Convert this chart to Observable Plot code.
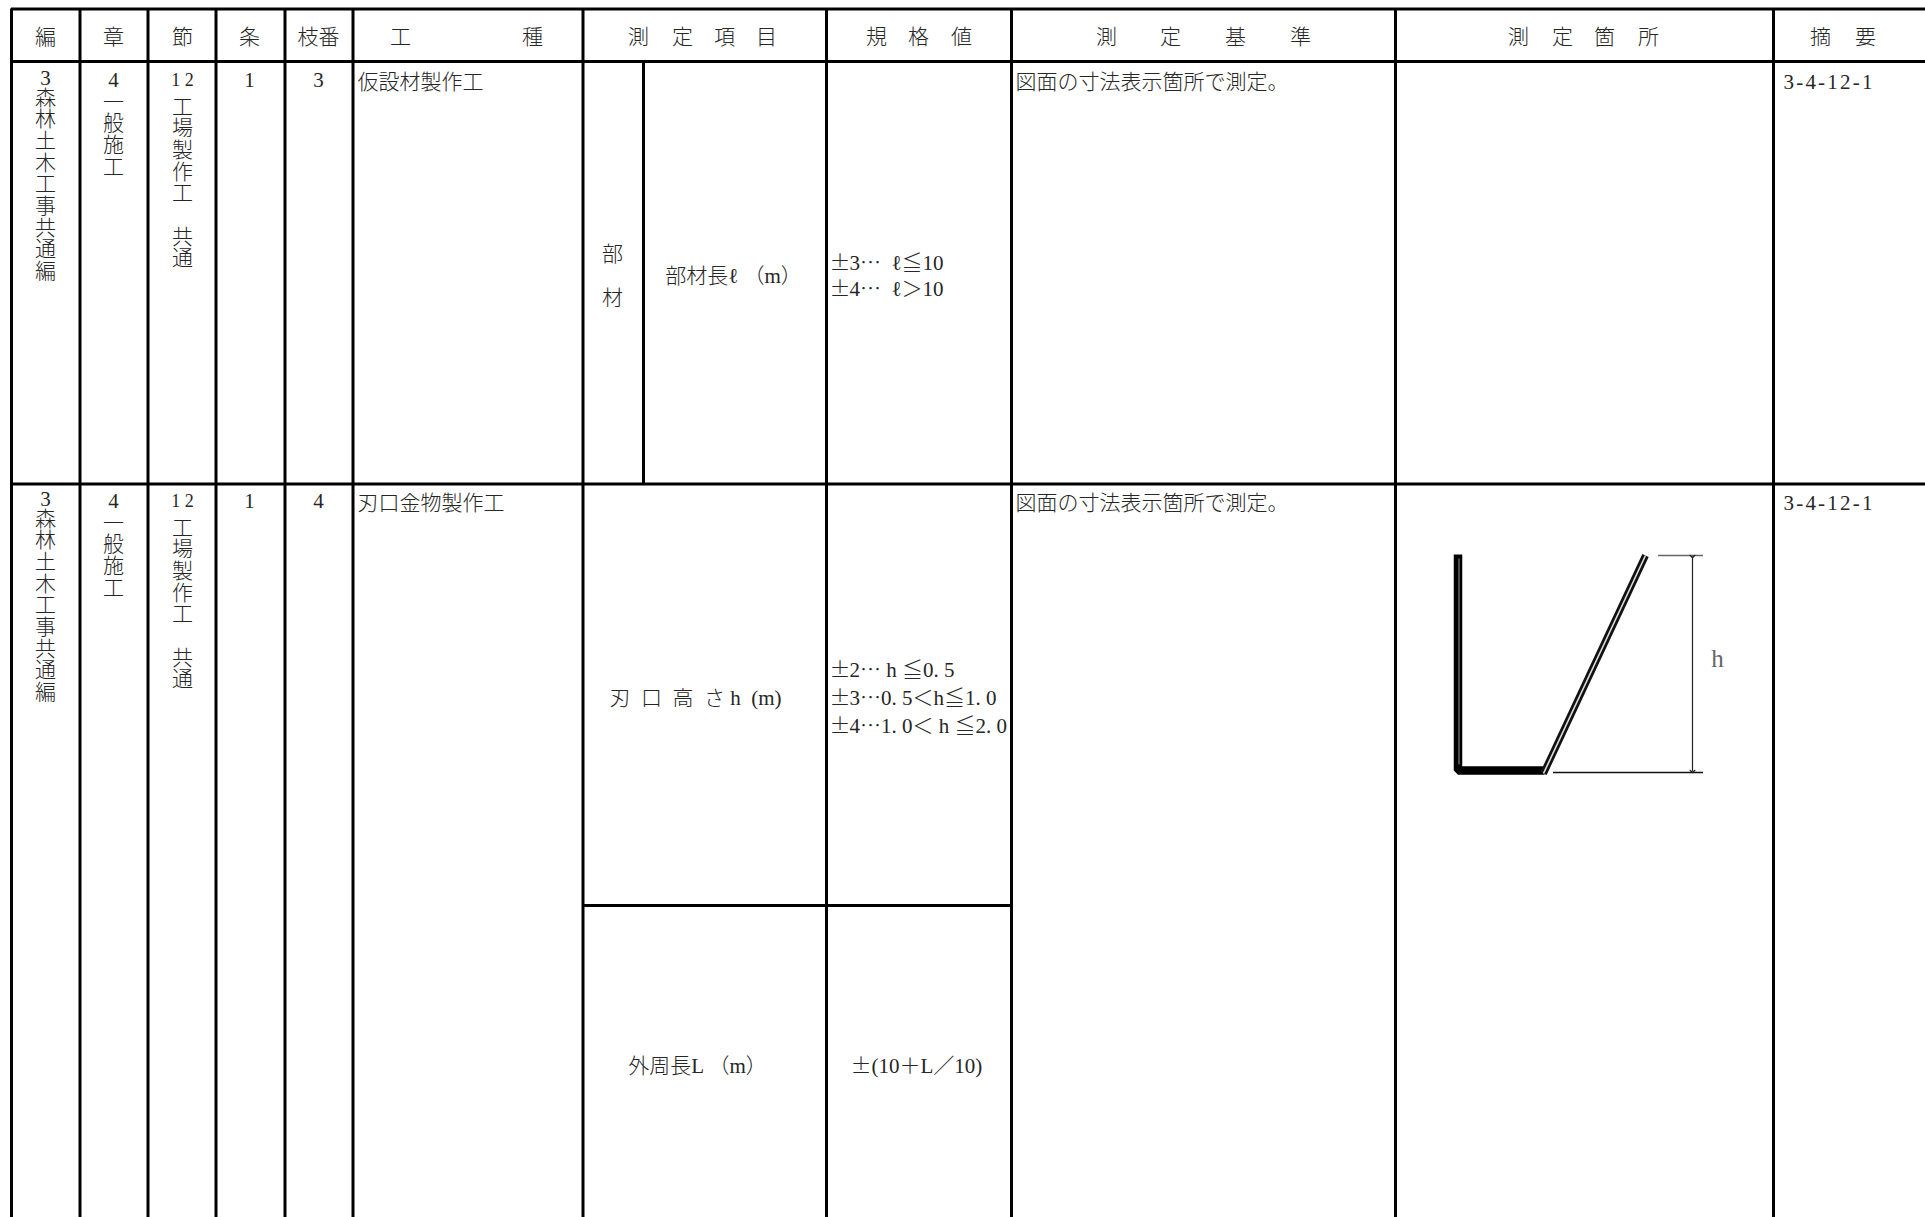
<!DOCTYPE html>
<html lang="ja"><head><meta charset="utf-8">
<style>html,body{margin:0;padding:0;background:#fff;overflow:hidden}svg{display:block}.wide text{letter-spacing:2.2px}</style>
<script src="https://cdn.jsdelivr.net/npm/d3@7"></script>
<script src="https://cdn.jsdelivr.net/npm/@observablehq/plot@0.6"></script>
</head><body><script>
// Table grid
const fullColumnEdges = [11, 79.5, 147.5, 215.5, 284.5, 352.5, 582.5, 826, 1011, 1395, 1773];
const innerEdge = [643];
const rowRules = [8.5, 61, 483.5];
const subRowRule = [905];
const tableEnd = 1925, pageEnd = 1217;

// Header
const headerChars = ["編","章","節","条","枝番","工","種","測","定","項","目","規","格","値","測","定","基","準","測","定","箇","所","摘","要"];
const headerCharX = [45,113,182,249,318,400,532,638,682,724,766,876,918,961,1106,1170,1235,1300,1518,1562,1604,1648,1820,1865];

// Rows
const rowTop = [82, 503];
const henNo = "3", henName = "森\n林\n土\n木\n工\n事\n共\n通\n編";
const shoNo = "4", shoName = "一\n般\n施\n工";
const setsuNo = "1 2", setsuName = "工\n場\n製\n作\n工\n\n共\n通";
const jo = ["1","1"];
const edaban = ["3","4"];
const koshu = ["仮設材製作工","刃口金物製作工"];
const kijun = "図面の寸法表示箇所で測定。";
const tekiyo = "3-4-12-1";

// Measurement items
const itemText = ["部","材","部材長ℓ （m）","外周長L （m）"];
const itemX = [612,612,733,697];
const itemY = [254,298,276,1066];
const bladeItem = "刃\u2002口\u2002高\u2002さ h\u2002(m)";
const perimeterSpecSign = "±", perimeterSpec = "(10＋L／10)";
const specValues = ["3⋯  ℓ≦10","4⋯  ℓ＞10","2⋯ h ≦0. 5","3⋯0. 5＜h≦1. 0","4⋯1. 0＜ h ≦2. 0"];
const specY = [263,289,670,698,726];

// Sketch of the cutting edge section
const legPath = [[1457.5,554],[1457.5,770],[1544,770]];
const legCore = [[1458.5,558],[1458.5,764]];
const slope = [[1543,773],[1645,555]];
const hDim = {x:1692,y1:556,y2:771};
const hExt = [[1658,1703,555,"#666"],[1553,1703,772,"#111"]];

const serif = `"Liberation Serif","Noto Sans CJK JP",serif`;
const cjk = `"Noto Sans CJK JP",serif`;
const ink = "#262626";
const rows = [0,1];
const txt = {fontFamily:serif,fontSize:21,fill:ink,fontWeight:300};
const stack = {...txt,lineAnchor:"top",lineHeight:1.03};

const chart = Plot.plot({
  width:1925,height:1217,margin:0,
  x:{domain:[0,1925],range:[0,1925],axis:null},
  y:{domain:[0,1217],range:[0,1217],axis:null},
  style:{background:"#fff"},
  marks:[
    // grid
    Plot.ruleX(fullColumnEdges,{x:d=>d,y1:rowRules[0],y2:pageEnd,stroke:"#000",strokeWidth:3}),
    Plot.ruleX(innerEdge,{x:d=>d,y1:rowRules[1],y2:rowRules[2],stroke:"#000",strokeWidth:3}),
    Plot.ruleY(rowRules,{y:d=>d,x1:fullColumnEdges[0],x2:tableEnd,stroke:"#000",strokeWidth:3}),
    Plot.ruleY(subRowRule,{y:d=>d,x1:fullColumnEdges[6],x2:fullColumnEdges[8],stroke:"#000",strokeWidth:3}),
    // header
    Plot.text(headerChars,{x:(d,i)=>headerCharX[i],y:()=>37,text:d=>d,...txt,lineAnchor:"middle"}),
    // stacked labels
    Plot.text(rows,{x:()=>45,y:i=>rowTop[i]-4,text:()=>henNo,...txt,lineAnchor:"middle"}),
    Plot.text(rows,{x:()=>45,y:i=>rowTop[i]+7,text:()=>henName,...stack}),
    Plot.text(rows,{x:()=>113,y:i=>rowTop[i]-2,text:()=>shoNo,...txt,lineAnchor:"middle"}),
    Plot.text(rows,{x:()=>113,y:i=>rowTop[i]+11,text:()=>shoName,...stack}),
    Plot.text(rows,{x:()=>182,y:i=>rowTop[i]-2,text:()=>setsuNo,...txt,fontSize:18,lineAnchor:"middle"}),
    Plot.text(rows,{x:()=>182,y:i=>rowTop[i]+16,text:()=>setsuName,...stack}),
    Plot.text(rows,{x:()=>249,y:i=>rowTop[i]-2,text:i=>jo[i],...txt,lineAnchor:"middle"}),
    Plot.text(rows,{x:()=>318,y:i=>rowTop[i]-2,text:i=>edaban[i],...txt,lineAnchor:"middle"}),
    Plot.text(rows,{x:()=>357,y:i=>rowTop[i],text:i=>koshu[i],...txt,textAnchor:"start",lineAnchor:"middle"}),
    Plot.text(rows,{x:()=>1015,y:i=>rowTop[i],text:()=>kijun,...txt,textAnchor:"start",lineAnchor:"middle"}),
    Plot.text(rows,{x:()=>1783,y:i=>rowTop[i],text:()=>tekiyo,...txt,className:"wide",textAnchor:"start",lineAnchor:"middle"}),
    // items + specs
    Plot.text(itemText,{x:(d,i)=>itemX[i],y:(d,i)=>itemY[i],text:d=>d,...txt,lineAnchor:"middle"}),
    Plot.text([bladeItem],{x:()=>609,y:()=>698,text:d=>d,...txt,textAnchor:"start",lineAnchor:"middle"}),
    Plot.text(specValues,{x:()=>829,y:(d,i)=>specY[i],text:()=>perimeterSpecSign,...txt,fontFamily:cjk,textAnchor:"start",lineAnchor:"middle"}),
    Plot.text(specValues,{x:()=>849,y:(d,i)=>specY[i],text:d=>d,...txt,textAnchor:"start",lineAnchor:"middle"}),
    Plot.text([perimeterSpecSign],{x:()=>850,y:()=>1066,text:d=>d,...txt,fontFamily:cjk,textAnchor:"start",lineAnchor:"middle"}),
    Plot.text([perimeterSpec],{x:()=>871,y:()=>1066,text:d=>d,...txt,textAnchor:"start",lineAnchor:"middle"}),
    // sketch
    Plot.line(legPath,{x:d=>d[0],y:d=>d[1],stroke:"#000",strokeWidth:8.5,strokeLinejoin:"miter",strokeLinecap:"butt",curve:"linear"}),
    Plot.line(legCore,{x:d=>d[0],y:d=>d[1],stroke:"#999",strokeWidth:1,strokeLinecap:"butt"}),
    Plot.line(slope,{x:d=>d[0],y:d=>d[1],stroke:"#111",strokeWidth:7,strokeLinecap:"butt"}),
    Plot.line(slope,{x:d=>d[0],y:d=>d[1],stroke:"#ddd",strokeWidth:1.6,strokeLinecap:"butt"}),
    Plot.ruleY(hExt,{y:d=>d[2],x1:d=>d[0],x2:d=>d[1],stroke:d=>d[3],strokeWidth:1.5}),
    Plot.link([hDim],{x1:d=>d.x,x2:d=>d.x,y1:d=>d.y1,y2:d=>d.y2,stroke:"#222",strokeWidth:1.2,marker:"arrow"}),
    Plot.text(["h"],{x:()=>1717,y:()=>658,text:d=>d,fontFamily:serif,fontSize:25,fill:"#666",lineAnchor:"middle"})
  ]
});
document.body.appendChild(chart);
</script></body></html>
